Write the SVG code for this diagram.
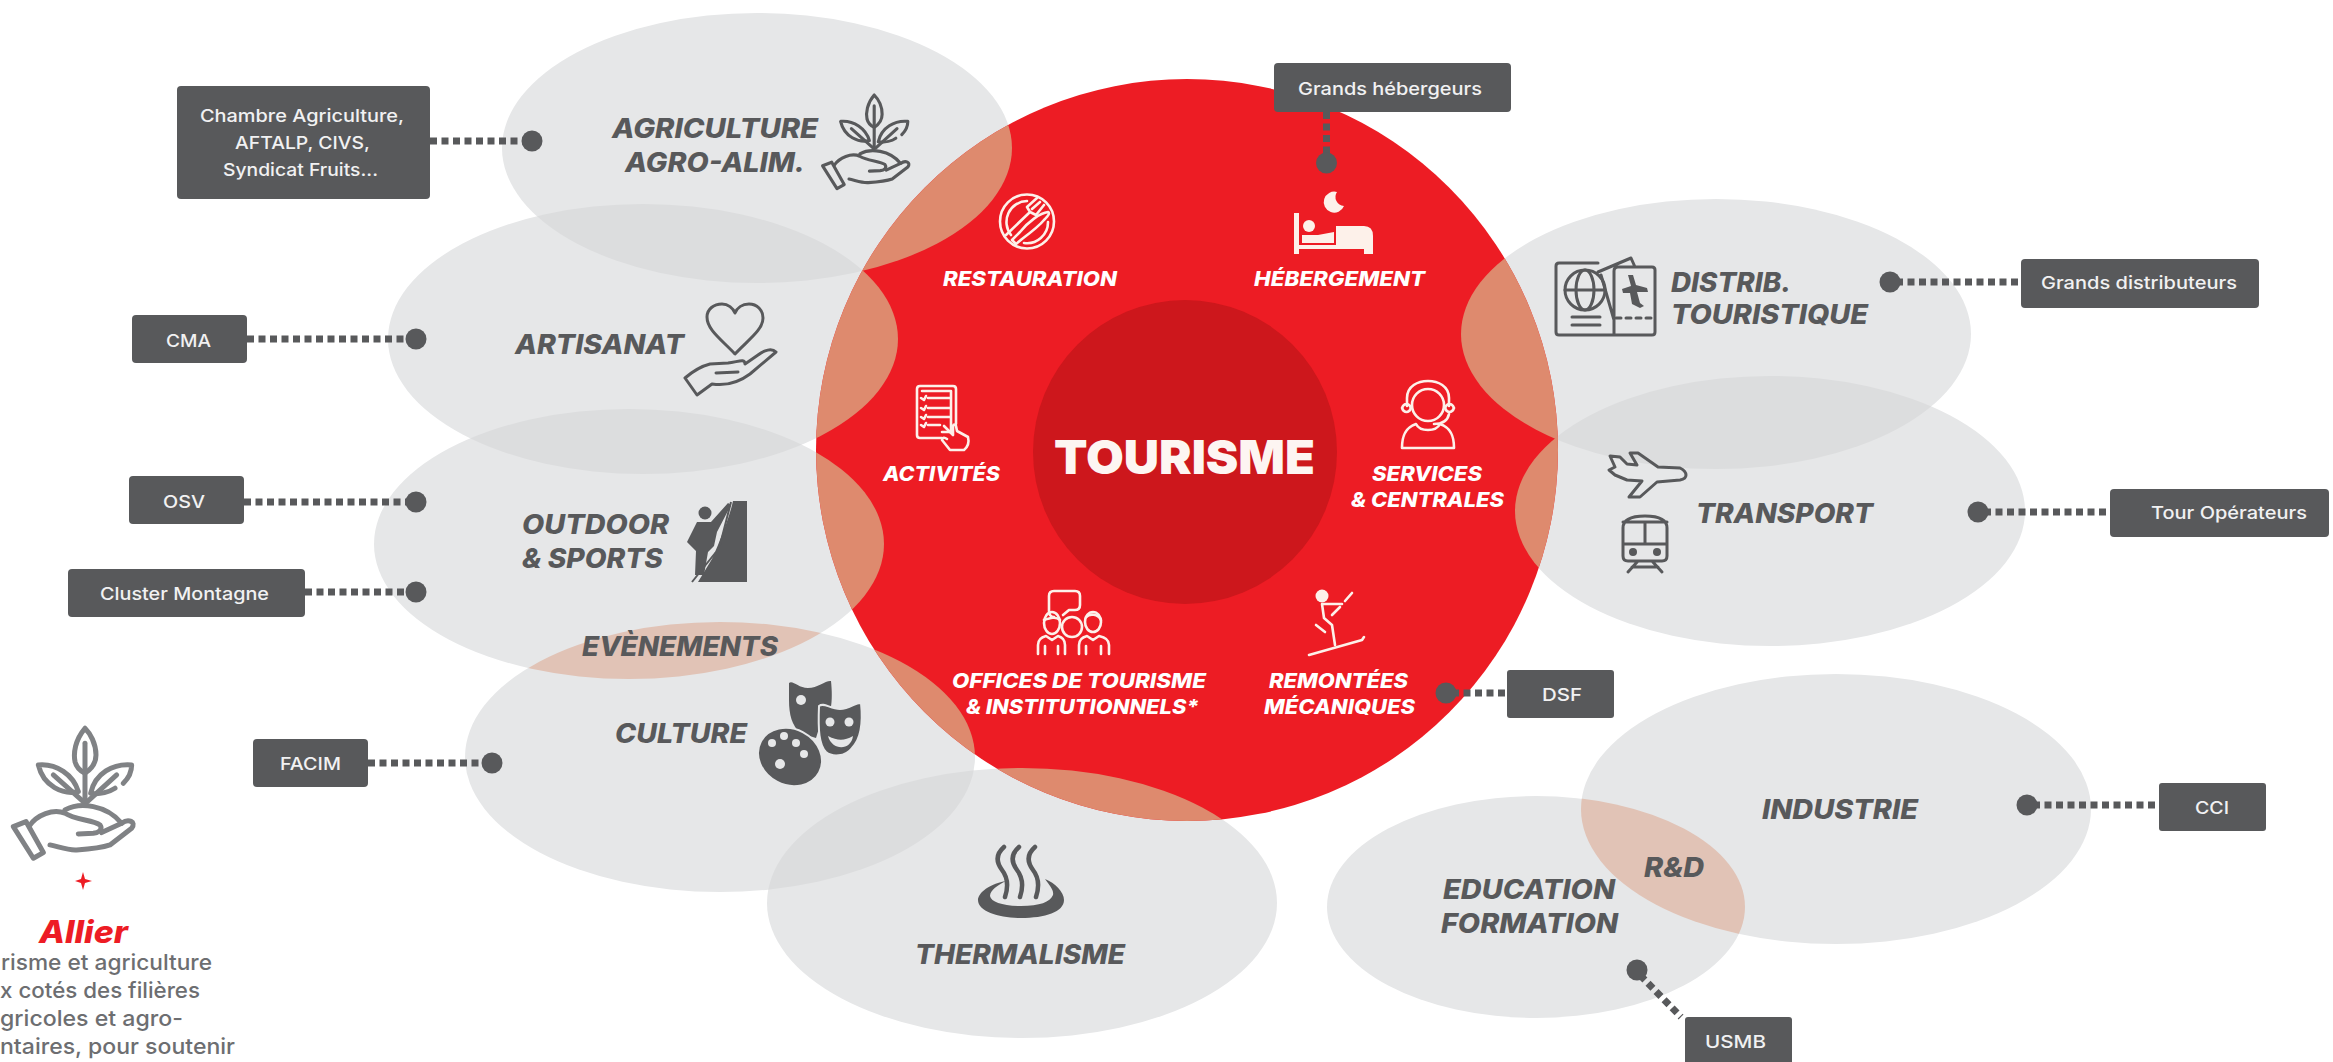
<svg xmlns="http://www.w3.org/2000/svg" width="2333" height="1062" viewBox="0 0 2333 1062">
<style>
.g{fill:#e6e7e8}
.gg{fill:#dcddde}
.sal{fill:#de8a6e}
.pink{fill:#e1c3b6}
.lb{font-family:Inter,"Liberation Sans",sans-serif;font-weight:800;font-style:italic;font-size:27px;fill:#58595b}
.wl{font-family:Inter,"Liberation Sans",sans-serif;font-weight:800;font-style:italic;font-size:20px;fill:#fff}
.bx{fill:#58595b}
.bt{font-family:Inter,"Liberation Sans",sans-serif;font-weight:500;font-size:17.500px;fill:#f1f1f2}
.cn{stroke:#58595b;stroke-width:7;stroke-dasharray:7 4.500;fill:none}
.dot{fill:#58595b}
.ic{fill:none;stroke:#58595b;stroke-width:3;stroke-linecap:round;stroke-linejoin:round}
.if{fill:#58595b}
.ho{fill:#e6e7e8}
.iw{fill:none;stroke:#fdf1ea;stroke-width:2.600;stroke-linecap:round;stroke-linejoin:round}
.wf{fill:#fdf1ea}
.body{font-family:Inter,"Liberation Sans",sans-serif;font-weight:500;font-size:22px;fill:#6d6e71}
</style>
<defs>
<clipPath id="cRed"><circle cx="1187" cy="450" r="371"/></clipPath>
<clipPath id="cOut"><ellipse cx="629" cy="544" rx="255" ry="135"/></clipPath>
<clipPath id="cArt"><ellipse cx="643" cy="339" rx="255" ry="135"/></clipPath>
<clipPath id="cDis"><ellipse cx="1716" cy="334" rx="255" ry="135"/></clipPath>
<clipPath id="cInd"><ellipse cx="1836" cy="809" rx="255" ry="135"/></clipPath>
<clipPath id="cTh"><ellipse cx="1022" cy="903" rx="255" ry="135"/></clipPath>
<clipPath id="cTr"><ellipse cx="1770" cy="511" rx="255" ry="135"/></clipPath>
<g id="plant">
<path d="M255 25C225 60 220 100 225 125C230 145 245 155 255 160C270 150 288 135 288 105C288 70 270 40 255 25Z"/>
<path d="M255 70V250"/>
<path d="M115 135C170 130 220 165 235 215C190 225 130 200 115 135Z"/>
<path d="M160 165L250 245"/>
<path d="M345 205C330 215 300 225 272 220C285 160 340 130 395 135C395 155 385 175 370 190"/>
<path d="M350 165L262 245"/>
<path d="M195 270C240 245 320 255 365 310"/>
<path d="M40 320L100 415L130 398L78 305Z"/>
<path d="M88 318C110 285 160 265 195 280C225 300 280 300 300 315C310 330 295 338 280 340L235 342"/>
<path d="M150 375C175 380 205 392 230 390C260 388 310 382 330 375L395 325C410 305 385 295 365 310L305 338"/>
</g>
</defs>

<g id="node-agriculture">
<ellipse class="g" cx="757" cy="148" rx="255" ry="135"/>
<text class="lb" x="612" y="138" textLength="206" lengthAdjust="spacingAndGlyphs">AGRICULTURE</text>
<text class="lb" x="625" y="172" textLength="180" lengthAdjust="spacingAndGlyphs">AGRO-ALIM.</text>
<use href="#plant" transform="translate(813 89) scale(.24)" fill="none" stroke="#58595b" stroke-width="13" stroke-linecap="round" stroke-linejoin="round"/>
</g>

<g id="node-artisanat">
<ellipse class="g" cx="643" cy="339" rx="255" ry="135"/>
<ellipse class="gg" cx="757" cy="148" rx="255" ry="135" clip-path="url(#cArt)"/>
<text class="lb" x="515" y="354" textLength="169" lengthAdjust="spacingAndGlyphs">ARTISANAT</text>
<path class="ic" d="M735 354C722 340 707 330 707 317C707 309 714 304 722 304C728 304 733 308 735 313C737 308 742 304 749 304C757 304 763 310 763 318C763 330 748 340 735 354Z"/>
<path class="ic" d="M685 378L697 395L712 384C725 386 738 383 750 374L776 352C772 348 764 350 758 355L745 364C745 358 738 362 728 363L710 364C702 366 692 372 685 378ZM716 373L738 372"/>
</g>

<g id="node-outdoor">
<ellipse class="g" cx="629" cy="544" rx="255" ry="135"/>
<ellipse class="gg" cx="643" cy="339" rx="255" ry="135" clip-path="url(#cOut)"/>
<text class="lb" x="522" y="534" textLength="147" lengthAdjust="spacingAndGlyphs">OUTDOOR</text>
<text class="lb" x="522" y="568" textLength="141" lengthAdjust="spacingAndGlyphs">&amp; SPORTS</text>
<path class="if" d="M733 501H747V582H698L712 559L718 545C724 530 730 515 733 501Z"/>
<path d="M731 502L720 545M716 552L692 582" stroke="#58595b" stroke-width="2" fill="none"/>
<circle class="if" cx="705" cy="513" r="6.500"/>
<path class="if" d="M697 522L711 522L728 503L731 505L717 532L714 546L708 552L704 575L695 575L696 551L687 542Z"/>
</g>

<g id="node-culture">
<ellipse class="g" cx="720" cy="757" rx="255" ry="135"/>
<text class="lb" x="615" y="743" textLength="132" lengthAdjust="spacingAndGlyphs">CULTURE</text>
<path class="if" d="M789 683C793 680 798 688 808 688C818 688 826 680 831 681C833 700 832 720 820 725L816 738L800 733C792 725 789 715 789 700Z"/>
<circle class="ho" cx="801" cy="700" r="5"/>
<path class="if" d="M819 706C824 702 830 709 840 709C850 709 856 702 861 703C863 722 862 738 852 748C845 757 832 757 826 752C819 745 818 730 819 706Z" stroke="#e6e7e8" stroke-width="2"/>
<circle class="ho" cx="830" cy="722" r="4.500"/><circle class="ho" cx="849" cy="722" r="4.500"/>
<path class="ho" d="M828 736C838 741 844 741 853 736C851 751 832 751 828 736Z"/>
<ellipse class="if" cx="790" cy="757" rx="33" ry="28" transform="rotate(28 790 757)" stroke="#e6e7e8" stroke-width="2"/>
<circle class="ho" cx="772" cy="743" r="4"/><circle class="ho" cx="784" cy="736" r="4"/><circle class="ho" cx="796" cy="743" r="4"/><circle class="ho" cx="804" cy="754" r="4"/><circle class="ho" cx="780" cy="764" r="5"/>
</g>

<g id="node-thermalisme">
<ellipse class="g" cx="1022" cy="903" rx="255" ry="135"/>
<ellipse class="gg" cx="720" cy="757" rx="255" ry="135" clip-path="url(#cTh)"/>
<text class="lb" x="915" y="964" textLength="210" lengthAdjust="spacingAndGlyphs">THERMALISME</text>
<path d="M1004 847C996 854 996 862 1002 870C1009 879 1008 888 1005 897M1019 847C1011 854 1011 862 1017 870C1024 879 1023 888 1020 897M1035 847C1027 854 1027 862 1033 870C1040 879 1039 888 1036 897" fill="none" stroke="#58595b" stroke-width="4.500" stroke-linecap="round"/>
<path class="if" d="M1006 881C985 885 978 895 978 900C978 912 1000 918 1021 918C1045 918 1064 912 1064 900C1064 892 1055 883 1045 879C1050 886 1054 890 1053 895C1050 902 1040 906 1021 906C1003 906 991 902 990 896C990 890 998 885 1006 881Z"/>
</g>

<g id="node-distrib">
<ellipse class="g" cx="1716" cy="334" rx="255" ry="135"/>
<text class="lb" x="1671" y="292" textLength="120" lengthAdjust="spacingAndGlyphs">DISTRIB.</text>
<text class="lb" x="1671" y="324" textLength="197" lengthAdjust="spacingAndGlyphs">TOURISTIQUE</text>
<path class="ic" d="M1598 263H1559Q1556 263 1556 266V332Q1556 335 1559 335H1652Q1655 335 1655 332V270Q1655 267 1652 267H1618Q1614 267 1614 271V335M1598 272L1631 258L1635 267M1601 275L1614 320"/>
<circle class="ic" cx="1585" cy="290" r="20"/>
<ellipse class="ic" cx="1585" cy="290" rx="9" ry="20" stroke-width="2"/>
<path class="ic" stroke-width="2" d="M1565 290H1605M1572 317H1600M1572 325H1600"/>
<path class="ic" stroke-dasharray="5 5" stroke-linecap="butt" d="M1616 318H1653"/>
<path class="if" d="M1628 275L1633 275L1636 285L1647 288L1648 292L1637 292L1640 303L1644 306L1640 308L1632 304L1630 293L1623 293L1622 289L1631 286Z"/>
</g>

<g id="node-transport">
<ellipse class="g" cx="1770" cy="511" rx="255" ry="135"/>
<ellipse class="gg" cx="1716" cy="334" rx="255" ry="135" clip-path="url(#cTr)"/>
<text class="lb" x="1696" y="523" textLength="177" lengthAdjust="spacingAndGlyphs">TRANSPORT</text>
<path class="ic" d="M1610 456L1620 457L1627 464L1637 465L1630 453L1638 453L1658 467L1680 468Q1686 471 1686 475Q1686 479 1680 480L1657 482L1640 497L1629 497L1642 481L1627 480L1615 475L1609 470L1615 467Z"/>
<path class="ic" d="M1623 528Q1623 516 1645 516Q1667 516 1667 528V556Q1667 561 1662 561H1628Q1623 561 1623 556ZM1623 544H1667M1645 522V544M1623 522H1667M1628 572L1638 561M1662 572L1652 561M1632 567H1658"/>
<circle class="if" cx="1633" cy="552" r="4"/><circle class="if" cx="1657" cy="552" r="4"/>
</g>

<g id="node-education">
<ellipse class="g" cx="1536" cy="907" rx="209" ry="111"/>
<text class="lb" x="1443" y="899" textLength="172" lengthAdjust="spacingAndGlyphs">EDUCATION</text>
<text class="lb" x="1441" y="933" textLength="177" lengthAdjust="spacingAndGlyphs">FORMATION</text>
</g>

<g id="node-industrie">
<ellipse class="g" cx="1836" cy="809" rx="255" ry="135"/>
<ellipse class="pink" cx="1536" cy="907" rx="209" ry="111" clip-path="url(#cInd)"/>
<text class="lb" x="1762" y="819" textLength="156" lengthAdjust="spacingAndGlyphs">INDUSTRIE</text>
<text class="lb" x="1644" y="877" textLength="60" lengthAdjust="spacingAndGlyphs">R&amp;D</text>
</g>

<g id="node-evenements">
<ellipse class="pink" cx="720" cy="757" rx="255" ry="135" clip-path="url(#cOut)"/>
<text class="lb" x="582" y="656" textLength="196" lengthAdjust="spacingAndGlyphs">EVÈNEMENTS</text>
</g>

<g id="node-tourisme">
<circle cx="1187" cy="450" r="371" fill="#ed1c24"/>
<g clip-path="url(#cRed)">
<ellipse class="sal" cx="757" cy="148" rx="255" ry="135"/>
<ellipse class="sal" cx="643" cy="339" rx="255" ry="135"/>
<ellipse class="sal" cx="629" cy="544" rx="255" ry="135"/>
<ellipse class="sal" cx="720" cy="757" rx="255" ry="135"/>
<ellipse class="sal" cx="1022" cy="903" rx="255" ry="135"/>
<ellipse class="sal" cx="1716" cy="334" rx="255" ry="135"/>
<ellipse class="sal" cx="1770" cy="511" rx="255" ry="135"/>
</g>
<circle cx="1185" cy="452" r="152" fill="#cd171c"/>
<text x="1054" y="474" textLength="261" lengthAdjust="spacingAndGlyphs" font-family="Inter,'Liberation Sans',sans-serif" font-weight="900" font-size="47" fill="#fdf5f2">TOURISME</text>
<text class="wl" x="943" y="286" textLength="174" lengthAdjust="spacingAndGlyphs">RESTAURATION</text>
<text class="wl" x="1254" y="286" textLength="171" lengthAdjust="spacingAndGlyphs">HÉBERGEMENT</text>
<text class="wl" x="883" y="481" textLength="117" lengthAdjust="spacingAndGlyphs">ACTIVITÉS</text>
<text class="wl" x="1372" y="481" textLength="110" lengthAdjust="spacingAndGlyphs">SERVICES</text>
<text class="wl" x="1351" y="507" textLength="153" lengthAdjust="spacingAndGlyphs">&amp; CENTRALES</text>
<text class="wl" x="952" y="688" textLength="254" lengthAdjust="spacingAndGlyphs">OFFICES DE TOURISME</text>
<text class="wl" x="966" y="714" textLength="233" lengthAdjust="spacingAndGlyphs">&amp; INSTITUTIONNELS*</text>
<text class="wl" x="1269" y="688" textLength="139" lengthAdjust="spacingAndGlyphs">REMONTÉES</text>
<text class="wl" x="1264" y="714" textLength="151" lengthAdjust="spacingAndGlyphs">MÉCANIQUES</text>
<!-- restauration -->
<circle class="iw" cx="1027" cy="221.500" r="27"/>
<path class="iw" d="M1011 235A21 21 0 0 1 1027 201M1048 222A21 21 0 0 1 1024 243"/>
<path class="iw" d="M1006 235L1030 212M1030 212L1027 207L1037 198M1030 212L1036 215L1044 205M1032 209L1040 202"/>
<path class="iw" d="M1016 244L1022 239C1030 233 1040 225 1044 220C1049 215 1050 213 1048 212C1040 213 1028 222 1020 232L1012 240Z"/>
<!-- bed -->
<path class="wf" d="M1294 213H1299V245H1369V254H1364V249H1299V254H1294Z"/>
<path class="wf" d="M1336 226H1364Q1373 226 1373 236V254H1369V245H1336Z"/>
<circle class="wf" cx="1309" cy="226" r="6"/>
<path class="wf" d="M1302 235H1318L1334 232V243H1302Z"/>
<path class="wf" d="M1337 192A10.500 10.500 0 1 0 1344 206A9 9 0 0 1 1337 192Z"/>
<!-- clipboard -->
<path class="iw" d="M942 438H920Q917 438 917 435V389Q917 386 920 386H953Q956 386 956 389V424M922 391H951V432H942"/>
<path class="iw" stroke-width="2" d="M928 398H950M928 408H950M928 417H950M928 425H940M921 398L924 400L926 396M921 408L924 410L926 406M921 417L924 419L926 415M921 425L924 427L926 423"/>
<path class="iw" d="M944 426L953 435V426Q954 423 956 426L957 431L968 437Q970 445 964 450H950L942 440Q943 436 947 439"/>
<!-- services -->
<circle class="iw" cx="1428" cy="405" r="16"/>
<path class="iw" d="M1407 406V398C1407 386 1418 381 1428 381C1438 381 1449 386 1449 398V406M1402 408A5 7 0 0 0 1411 408A5 7 0 0 0 1402 408M1445 408A5 7 0 0 0 1454 408A5 7 0 0 0 1445 408M1449 414Q1447 424 1434 424M1402 448C1402 438 1404 428 1416 424C1420 432 1436 432 1440 424C1452 428 1454 438 1454 448Z"/>
<!-- offices -->
<path class="iw" d="M1054 617Q1049 617 1049 611V596Q1049 591 1054 591H1075Q1080 591 1080 596V605Q1080 610 1075 610H1069L1063 615"/>
<ellipse class="iw" cx="1052" cy="623" rx="8" ry="11"/>
<path class="iw" d="M1044 620C1050 618 1056 616 1060 620"/>
<circle class="iw" cx="1072" cy="627" r="10"/>
<ellipse class="iw" cx="1093" cy="622" rx="8" ry="10"/>
<path class="iw" d="M1086 617C1090 613 1098 614 1101 620M1038 654V645Q1038 638 1046 636L1052 640L1058 636Q1065 638 1065 645V654M1079 654V645Q1079 638 1087 636L1093 640L1099 636Q1109 638 1109 645V654M1045 654V646M1058 654V646M1086 654V646M1101 654V646"/>
<!-- ski -->
<circle class="wf" cx="1322" cy="596" r="6.500"/>
<path class="iw" stroke-width="5" d="M1322 604L1342 604M1322 604L1324 618L1332 625L1335 645"/>
<path class="iw" d="M1352 593L1345 601M1340 607L1332 615M1316 625L1325 632M1309 655L1362 640L1364 637"/>
</g>

<g id="connectors">
<path class="cn" d="M430 141H525"/>
<path class="cn" d="M247 339H410"/>
<path class="cn" d="M244 502H410"/>
<path class="cn" d="M305 592H410"/>
<path class="cn" d="M368 763H486"/>
<path class="cn" d="M1326.500 112V157"/>
<path class="cn" d="M1896 282H2021"/>
<path class="cn" d="M1984 512H2110"/>
<path class="cn" d="M1452 693H1507"/>
<path class="cn" d="M2033 805H2159"/>
<path class="cn" stroke-width="4" stroke-dasharray="6 11" d="M1640 975L1681 1017"/>
<circle class="dot" cx="532" cy="141" r="10.500"/>
<circle class="dot" cx="416" cy="339" r="10.500"/>
<circle class="dot" cx="416" cy="502" r="10.500"/>
<circle class="dot" cx="416" cy="592" r="10.500"/>
<circle class="dot" cx="492" cy="763" r="10.500"/>
<circle class="dot" cx="1326.500" cy="163" r="10.500"/>
<circle class="dot" cx="1890" cy="282" r="10.500"/>
<circle class="dot" cx="1978" cy="512" r="10.500"/>
<circle class="dot" cx="1446" cy="693" r="10.500"/>
<circle class="dot" cx="2027" cy="805" r="10.500"/>
<circle class="dot" cx="1637" cy="970" r="10.500"/>
</g>

<g id="box-chambre"><rect class="bx" x="177" y="86" width="253" height="113" rx="4"/>
<text class="bt" x="200" y="122" textLength="204" lengthAdjust="spacingAndGlyphs">Chambre Agriculture,</text>
<text class="bt" x="235" y="149" textLength="135" lengthAdjust="spacingAndGlyphs">AFTALP, CIVS,</text>
<text class="bt" x="223" y="176" textLength="155" lengthAdjust="spacingAndGlyphs">Syndicat Fruits...</text></g>
<g id="box-cma"><rect class="bx" x="132" y="315" width="115" height="48" rx="4"/><text class="bt" x="166" y="347" textLength="45" lengthAdjust="spacingAndGlyphs">CMA</text></g>
<g id="box-osv"><rect class="bx" x="129" y="476" width="115" height="48" rx="4"/><text class="bt" x="163" y="508" textLength="42" lengthAdjust="spacingAndGlyphs">OSV</text></g>
<g id="box-cluster"><rect class="bx" x="68" y="569" width="237" height="48" rx="4"/><text class="bt" x="100" y="600" textLength="169" lengthAdjust="spacingAndGlyphs">Cluster Montagne</text></g>
<g id="box-facim"><rect class="bx" x="253" y="739" width="115" height="48" rx="4"/><text class="bt" x="280" y="770" textLength="61" lengthAdjust="spacingAndGlyphs">FACIM</text></g>
<g id="box-hebergeurs"><rect class="bx" x="1274" y="63" width="237" height="49" rx="4"/><text class="bt" x="1298" y="95" textLength="184" lengthAdjust="spacingAndGlyphs">Grands hébergeurs</text></g>
<g id="box-distributeurs"><rect class="bx" x="2021" y="259" width="238" height="49" rx="4"/><text class="bt" x="2041" y="289" textLength="196" lengthAdjust="spacingAndGlyphs">Grands distributeurs</text></g>
<g id="box-tour"><rect class="bx" x="2110" y="489" width="219" height="48" rx="4"/><text class="bt" x="2151" y="519" textLength="156" lengthAdjust="spacingAndGlyphs">Tour Opérateurs</text></g>
<g id="box-dsf"><rect class="bx" x="1507" y="670" width="107" height="48" rx="3"/><text class="bt" x="1542" y="701" textLength="40" lengthAdjust="spacingAndGlyphs">DSF</text></g>
<g id="box-cci"><rect class="bx" x="2159" y="783" width="107" height="48" rx="3"/><text class="bt" x="2195" y="814" textLength="34" lengthAdjust="spacingAndGlyphs">CCI</text></g>
<g id="box-usmb"><rect class="bx" x="1685" y="1017" width="107" height="48" rx="3"/><text class="bt" x="1705" y="1048" textLength="61" lengthAdjust="spacingAndGlyphs">USMB</text></g>

<g id="node-allier">
<use href="#plant" transform="scale(.3333) translate(0 2160)" fill="none" stroke="#808285" stroke-width="15" stroke-linecap="round" stroke-linejoin="round"/>
<path d="M83 872L85 879L92 881L85 883L83 890L81 883L75 881L81 879Z" fill="#ed1c24"/>
<text x="39" y="943" textLength="89" lengthAdjust="spacingAndGlyphs" font-family="Inter,'Liberation Sans',sans-serif" font-weight="800" font-style="italic" font-size="31" fill="#ed1c24">Allier</text>
<text class="body" x="1" y="970" textLength="211" lengthAdjust="spacingAndGlyphs">risme et agriculture</text>
<text class="body" x="0" y="998" textLength="200" lengthAdjust="spacingAndGlyphs">x cotés des filières</text>
<text class="body" x="0" y="1026" textLength="183" lengthAdjust="spacingAndGlyphs">gricoles et agro-</text>
<text class="body" x="0" y="1054" textLength="235" lengthAdjust="spacingAndGlyphs">ntaires, pour soutenir</text>
</g>
</svg>
